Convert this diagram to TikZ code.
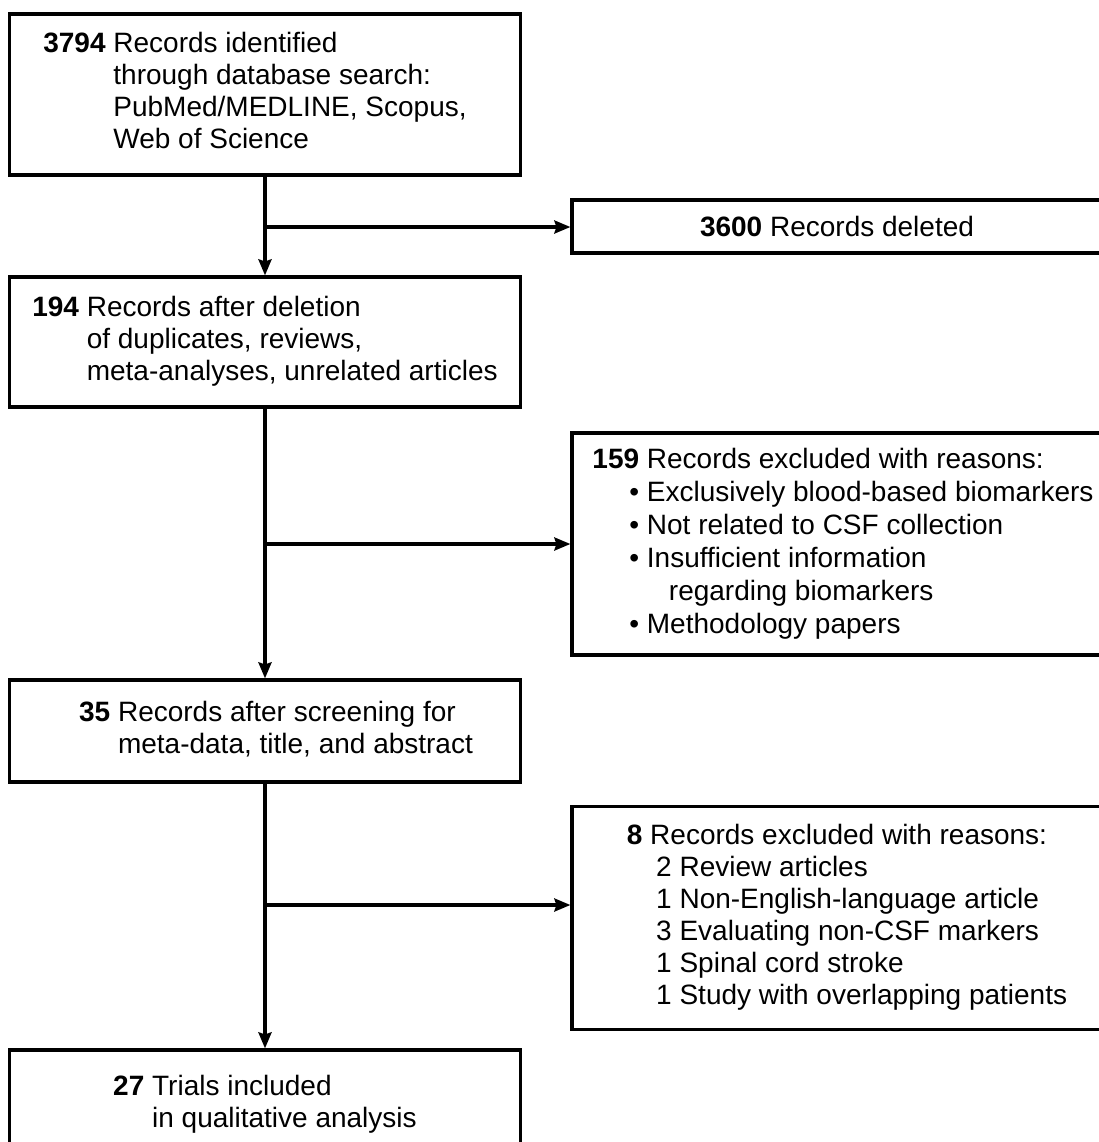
\documentclass[tikz,border=0pt]{standalone}
\usepackage{fontspec}
\setmainfont{Liberation Sans}
\usetikzlibrary{arrows.meta}
\tikzstyle{leftbox}=[draw, line width=1.6pt, minimum width=255.5pt, inner sep=0pt]
\tikzstyle{rightbox}=[draw, line width=1.6pt, minimum width=265pt, inner sep=0pt]
\tikzstyle{flow}=[line width=1.6pt, -{Stealth[length=8pt,width=6.5pt,inset=1pt]}]

\begin{document}
\begin{tikzpicture}[x=0.5pt, y=-0.5pt, font=\fontsize{14}{16}\selectfont]
		\clip (0,0) rectangle (1099,1142);
		% main column
		\node[leftbox, minimum height=80.5pt] (ident) at (265,94.5) {\begin{tabular}{@{}l@{ }l@{}}\textbf{3794} & Records identified\\ & through database search:\\ & PubMed/MEDLINE, Scopus,\\ & Web of Science\end{tabular}\hspace*{10pt}};
		\node[leftbox, minimum height=65pt] (dedup) at (265,342) {\begin{tabular}{@{}l@{ }l@{}}\textbf{194} & Records after deletion\\ & of duplicates, reviews,\\ & meta-analyses, unrelated articles\end{tabular}};
		\node[leftbox, minimum height=51pt] (screen) at (265,731) {\hspace*{11pt}\begin{tabular}{@{}l@{ }l@{}}\textbf{35} & Records after screening for\\ & meta-data, title, and abstract\end{tabular}};
		\node[leftbox, minimum height=55pt] (incl) at (265,1105) {\begin{tabular}{@{}l@{ }l@{}}\textbf{27} & Trials included\\ & in qualitative analysis\end{tabular}};
		% side boxes
		\node[rightbox, minimum height=26.5pt] (deleted) at (837,226.5) {\textbf{3600} Records deleted};
		\node[rightbox, minimum height=111pt] (excla) at (837,544) {\fontsize{14}{16.5}\selectfont\hspace*{6pt}\begin{tabular}{@{}l@{ }l@{}}\textbf{159} & Records excluded with reasons:\\ & \llap{\textbullet\ }Exclusively blood-based biomarkers\\ & \llap{\textbullet\ }Not related to CSF collection\\ & \llap{\textbullet\ }Insufficient information\\ & \hspace{11pt}regarding biomarkers\\ & \llap{\textbullet\ }Methodology papers\end{tabular}};
		\node[rightbox, minimum height=111.5pt] (exclb) at (837,918) {\hspace*{10pt}\begin{tabular}{@{}l@{ }l@{}}\textbf{8} & Records excluded with reasons:\\ & \hspace{3pt}2 Review articles\\ & \hspace{3pt}1 Non-English-language article\\ & \hspace{3pt}3 Evaluating non-CSF markers\\ & \hspace{3pt}1 Spinal cord stroke\\ & \hspace{3pt}1 Study with overlapping patients\end{tabular}};
		% connectors
		\coordinate (bra) at (265,227);
		\coordinate (brb) at (265,544);
		\coordinate (brc) at (265,905);
		\draw[flow] (ident) -- (dedup);
		\draw[flow] (dedup) -- (screen);
		\draw[flow] (screen) -- (incl);
		\draw[flow] (bra) -- (bra -| deleted.west);
		\draw[flow] (brb) -- (brb -| excla.west);
		\draw[flow] (brc) -- (brc -| exclb.west);
	\end{tikzpicture}
\end{document}
